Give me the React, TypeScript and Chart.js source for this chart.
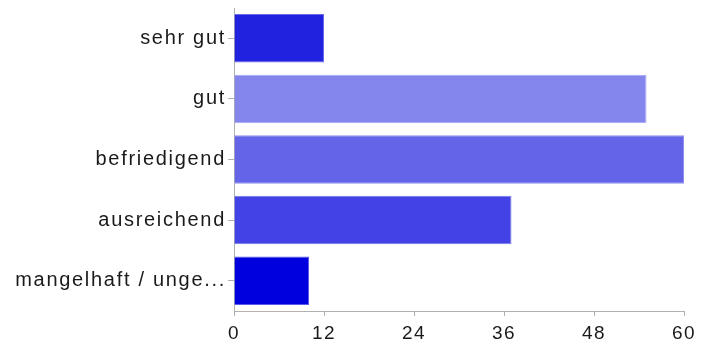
import React, { useEffect, useRef } from "react";
import { Chart, registerables } from "chart.js";

Chart.register(...registerables);

const categories = ["sehr gut", "gut", "befriedigend", "ausreichend", "mangelhaft / unge..."];
const values = [12, 55, 60, 37, 10];
const barColors = ["#2121E0", "#8585EE", "#6464E8", "#4242E6", "#0000DE"];
const barBorders = ["#6a6aee", "#a8a8f4", "#9090f0", "#7878ee", "#5a5aee"];
const xTicks = [0, 12, 24, 36, 48, 60];

function withSpacing(scale: any, spacing: string) {
  if (scale.__spaced) return;
  scale.__spaced = true;
  const orig = scale.drawLabels;
  scale.drawLabels = function (area: any) {
    const ctx = this.ctx;
    ctx.save();
    (ctx as any).letterSpacing = spacing;
    orig.call(this, area);
    ctx.restore();
  };
}

export default function App() {
  const ref = useRef<HTMLCanvasElement | null>(null);
  useEffect(() => {
    if (!ref.current) return;
    const family = "'Liberation Sans', Arial, sans-serif";
    const chart = new Chart(ref.current, {
      type: "bar",
      data: {
        labels: categories,
        datasets: [
          {
            data: values,
            backgroundColor: barColors,
            borderColor: barBorders,
            borderWidth: 1,
            barPercentage: 0.8,
            categoryPercentage: 1,
          },
        ],
      },
      options: {
        indexAxis: "y",
        responsive: false,
        animation: false,
        layout: { padding: { top: 8, right: 18, left: 0, bottom: 0 } },
        plugins: { legend: { display: false }, tooltip: { enabled: false } },
        scales: {
          x: {
            min: 0,
            max: 60,
            afterBuildTicks: (s: any) => {
              s.ticks = xTicks.map((v) => ({ value: v }));
            },
            afterFit: (s: any) => {
              s.height = 33;
              withSpacing(s, "1.5px");
            },
            ticks: { color: "#1a1a1a", font: { family, size: 19 }, padding: 6, maxRotation: 0 },
            grid: { drawOnChartArea: false, drawTicks: true, tickLength: 5, color: "#b0b0b0" },
            border: { color: "#b0b0b0", width: 1 },
          },
          y: {
            afterFit: (s: any) => {
              s.width = 234;
              s.paddingTop = 0;
              s.paddingBottom = 0;
              withSpacing(s, "1.7px");
            },
            ticks: { color: "#1a1a1a", font: { family, size: 20 }, padding: 2 },
            grid: { drawOnChartArea: false, offset: false, drawTicks: true, tickLength: 6, color: "#b0b0b0" },
            border: { color: "#b0b0b0", width: 1 },
          },
        },
      },
    });
    return () => chart.destroy();
  }, []);
  return (
    <div style={{ position: "absolute", left: 0, top: 0, width: 702, height: 344, background: "#fff" }}>
      <canvas ref={ref} width={702} height={344} style={{ width: 702, height: 344, display: "block" }} />
    </div>
  );
}
